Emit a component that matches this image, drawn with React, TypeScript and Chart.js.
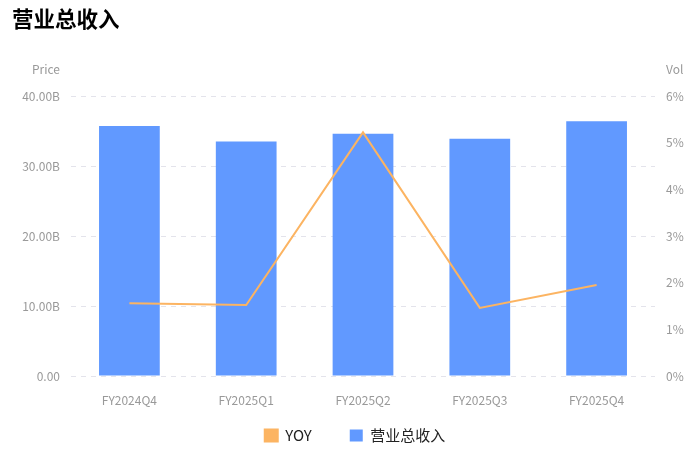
import { Chart, registerables } from "chart.js";
import { useEffect, useRef } from "react";

Chart.register(...registerables);

const FONT = "'Noto Sans CJK SC', 'Noto Sans', sans-serif";

const categories = ["FY2024Q4", "FY2025Q1", "FY2025Q2", "FY2025Q3", "FY2025Q4"];
// 营业总收入, in billions
const revenue = [35.7, 33.5, 34.6, 33.9, 36.4];
// YOY, in percent
const yoy = [1.56, 1.52, 5.22, 1.46, 1.95];

const priceTicks = [0, 10, 20, 30, 40];
const volTicks = [0, 1, 2, 3, 4, 5, 6];

// title and the two axis names above the plot
const headerText = {
  id: "headerText",
  afterDraw(chart: Chart) {
    const { ctx, chartArea } = chart;
    const left = chart.scales.y;
    const right = chart.scales.y1;
    ctx.save();
    ctx.textBaseline = "middle";
    ctx.fillStyle = "#000";
    ctx.font = `bold 21.5px ${FONT}`;
    ctx.textAlign = "left";
    ctx.fillText("营业总收入", 12, 19);

    ctx.font = `12px ${FONT}`;
    ctx.fillStyle = "#999";
    ctx.textAlign = "right";
    ctx.fillText("Price", left.right - 11, chartArea.top - 27);
    ctx.textAlign = "left";
    ctx.fillText("Vol", right.left + 11, chartArea.top - 27);
    ctx.restore();
  },
};

// x axis is squeezed so the legend can keep its wide spacing;
// give its labels room again so they are not clipped
const xLabelRoom = {
  id: "xLabelRoom",
  afterLayout(chart: Chart) {
    chart.scales.x.bottom = chart.height;
  },
};

export default function App() {
  const canvasRef = useRef<HTMLCanvasElement>(null);

  useEffect(() => {
    document.body.style.margin = "0";
    if (!canvasRef.current) return;

    const chart = new Chart(canvasRef.current, {
      data: {
        labels: categories,
        datasets: [
          {
            type: "line",
            label: "YOY",
            data: yoy,
            yAxisID: "y1",
            borderColor: "#fcb462",
            backgroundColor: "#fcb462",
            borderWidth: 2,
            pointRadius: 0,
            tension: 0,
          },
          {
            type: "bar",
            label: "营业总收入",
            data: revenue,
            yAxisID: "y",
            backgroundColor: "#6199ff",
            borderWidth: 0,
            barPercentage: 0.52,
            categoryPercentage: 1,
          },
        ],
      },
      options: {
        animation: false,
        responsive: true,
        maintainAspectRatio: false,
        layout: {
          padding: { top: 96, left: 12, right: 0, bottom: 0 },
        },
        plugins: {
          tooltip: { enabled: false },
          legend: {
            position: "bottom",
            labels: {
              boxWidth: 13,
              boxHeight: 12,
              padding: 38,
              color: "#222",
              font: { family: FONT, size: 15 },
            },
          },
        },
        scales: {
          x: {
            grid: { display: false, drawTicks: false },
            border: { display: false },
            ticks: {
              color: "#999",
              padding: 17,
              font: { family: FONT, size: 12 },
            },
            afterFit(scale) {
              scale.height = 14;
            },
          },
          y: {
            position: "left",
            min: 0,
            max: 40,
            afterBuildTicks(scale) {
              scale.ticks = priceTicks.map((value) => ({ value }));
            },
            grid: { color: "#e3e3eb", drawTicks: false },
            border: { display: false, dash: [5, 5] },
            ticks: {
              color: "#999",
              padding: 11,
              font: { family: FONT, size: 12 },
              callback: (v) =>
                Number(v) === 0 ? "0.00" : Number(v).toFixed(2) + "B",
            },
            afterFit(scale) {
              scale.width = 59;
            },
          },
          y1: {
            position: "right",
            min: 0,
            max: 6,
            afterBuildTicks(scale) {
              scale.ticks = volTicks.map((value) => ({ value }));
            },
            grid: { display: false, drawTicks: false },
            border: { display: false },
            ticks: {
              color: "#999",
              padding: 11,
              font: { family: FONT, size: 12 },
              callback: (v) => v + "%",
            },
            afterFit(scale) {
              scale.width = 43;
            },
          },
        },
      },
      plugins: [headerText, xLabelRoom],
    });

    return () => chart.destroy();
  }, []);

  return (
    <div style={{ position: "relative", width: 698, height: 453 }}>
      <canvas ref={canvasRef}></canvas>
    </div>
  );
}
